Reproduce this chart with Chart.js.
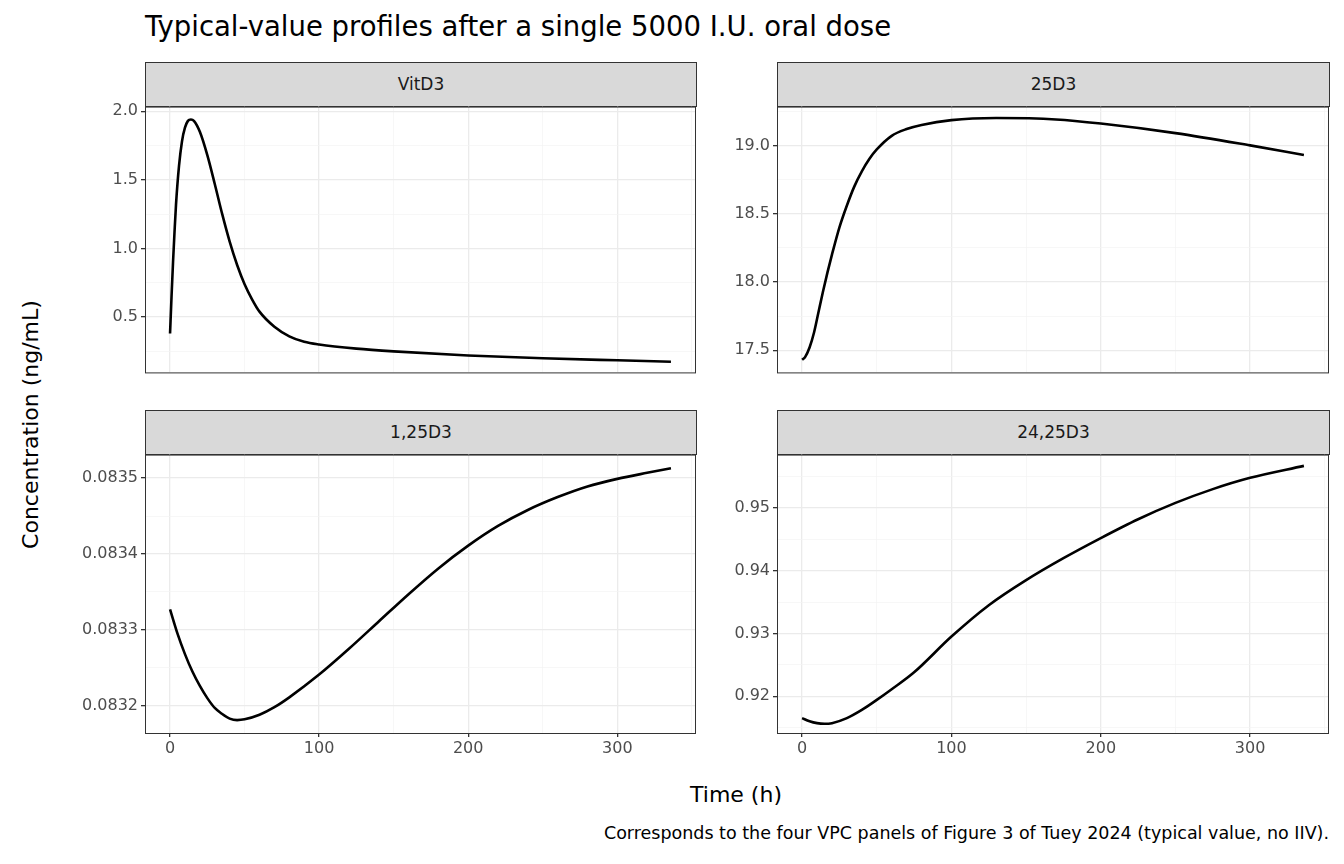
<!DOCTYPE html>
<html><head><meta charset="utf-8">
<script src="https://cdn.jsdelivr.net/npm/chart.js@4/dist/chart.umd.min.js"></script>
<style>
body{margin:0;width:1344px;height:864px;background:#fff;font-family:"DejaVu Sans",sans-serif;position:relative;overflow:hidden}
.abs{position:absolute;white-space:nowrap}
.strip{position:absolute;background:#d9d9d9;border:1px solid #333;box-sizing:border-box;height:45px;line-height:43px;text-align:center;font-size:17px;color:#1a1a1a}
canvas{position:absolute}
</style></head><body>
<div class="abs" style="left:145px;top:10px;font-size:27.5px;color:#000">Typical-value profiles after a single 5000 I.U. oral dose</div>
<div class="abs" style="left:-110px;top:412px;width:280px;text-align:center;font-size:22px;transform:rotate(-90deg)">Concentration (ng/mL)</div>
<div class="abs" style="left:636px;top:782px;width:200px;text-align:center;font-size:22px">Time (h)</div>
<div class="abs" style="right:15px;top:823px;font-size:17.5px">Corresponds to the four VPC panels of Figure 3 of Tuey 2024 (typical value, no IIV).</div>
<div class="strip" style="left:145px;top:62px;width:552px">VitD3</div>
<div class="strip" style="left:777px;top:62px;width:553px">25D3</div>
<div class="strip" style="left:145px;top:410px;width:552px">1,25D3</div>
<div class="strip" style="left:777px;top:410px;width:553px">24,25D3</div>
<canvas id="c0"></canvas><canvas id="c1"></canvas><canvas id="c2"></canvas><canvas id="c3"></canvas>
<script>
const vitd3Time = [0, 1, 2, 3, 4, 6, 8, 10, 12, 14, 16, 20, 25, 30, 35, 40, 45, 50, 55, 60, 70, 80, 90, 100, 125, 150, 200, 250, 300, 336];
const vitd3Conc = [0.38, 0.65, 0.9, 1.12, 1.32, 1.6, 1.78, 1.88, 1.93, 1.94, 1.93, 1.85, 1.68, 1.47, 1.25, 1.05, 0.88, 0.74, 0.63, 0.54, 0.43, 0.36, 0.32, 0.3, 0.27, 0.25, 0.22, 0.2, 0.185, 0.175];
const d25Time = [0, 2, 5, 8, 11, 14, 17, 20, 25, 30, 35, 40, 45, 50, 60, 70, 80, 100, 130, 170, 200, 250, 300, 336];
const d25Conc = [17.43, 17.45, 17.52, 17.63, 17.78, 17.93, 18.07, 18.2, 18.4, 18.56, 18.7, 18.81, 18.9, 18.97, 19.07, 19.12, 19.15, 19.185, 19.2, 19.19, 19.16, 19.09, 19.0, 18.93];
const d125Time = [0, 5, 10, 15, 20, 25, 30, 35, 40, 45, 50, 60, 70, 80, 100, 120, 140, 160, 180, 200, 220, 240, 260, 280, 300, 320, 336];
const d125Conc = [0.083327, 0.083295, 0.083268, 0.083245, 0.083226, 0.08321, 0.083197, 0.083189, 0.083183, 0.083181, 0.083182, 0.083188, 0.083198, 0.083211, 0.083241, 0.083275, 0.083311, 0.083347, 0.083381, 0.083411, 0.083437, 0.083458, 0.083475, 0.083489, 0.083499, 0.083507, 0.083513];
const d2425Time = [0, 5, 10, 15, 20, 30, 40, 50, 60, 75, 100, 125, 150, 175, 200, 225, 250, 275, 300, 336];
const d2425Conc = [0.9165, 0.916, 0.9157, 0.9156, 0.9157, 0.9165, 0.9178, 0.9194, 0.9211, 0.9238, 0.9295, 0.9345, 0.9385, 0.942, 0.9452, 0.9482, 0.9508, 0.953, 0.9548, 0.9567];
const xTicks = [0, 100, 200, 300];

const panels = [
  {id:'c0', t:vitd3Time, y:vitd3Conc, ymin:0.097, ymax:2.034, yTicks:[0.5,1.0,1.5,2.0], step:0.25, dec:1, left:40, top:107, yw:105, width:658, bottom:false},
  {id:'c1', t:d25Time, y:d25Conc, ymin:17.338, ymax:19.284, yTicks:[17.5,18.0,18.5,19.0], step:0.25, dec:1, left:700, top:107, yw:77, width:631, bottom:false},
  {id:'c2', t:d125Time, y:d125Conc, ymin:0.083164, ymax:0.083531, yTicks:[0.0832,0.0833,0.0834,0.0835], step:0.00005, dec:4, left:30, top:455, yw:115, width:668, bottom:true},
  {id:'c3', t:d2425Time, y:d2425Conc, ymin:0.91413, ymax:0.9585, yTicks:[0.92,0.93,0.94,0.95], step:0.005, dec:2, left:700, top:455, yw:77, width:631, bottom:true}
];

const border = {id:'border', afterDraw(c){const a=c.chartArea,x=c.ctx;x.save();x.strokeStyle='#333';x.lineWidth=1;x.strokeRect(a.left+0.5,a.top+0.5,a.right-a.left-1,a.bottom-a.top);x.restore();}};

function isMajor(v, list){return list.some(m=>Math.abs(m-v)<1e-9);}

panels.forEach(p=>{
  const cv=document.getElementById(p.id);
  const h = 289 + (p.bottom?32:2);
  cv.style.left=p.left+'px'; cv.style.top=p.top+'px';
  cv.style.width=p.width+'px'; cv.style.height=h+'px';
  const yAll=[]; for(let v=p.yTicks[0]-p.step*2; v<=p.ymax; v+=p.step){ if(v>=p.ymin) yAll.push(+v.toFixed(7)); }
  const chart = new Chart(cv,{
    type:'line',
    data:{datasets:[{data:p.t.map((t,i)=>({x:t,y:p.y[i]})),borderColor:'#000',borderWidth:2.6,pointRadius:0,cubicInterpolationMode:'monotone'}]},
    options:{
      responsive:false, animation:false, devicePixelRatio:1,
      layout:{padding:{top:0,right:2,bottom:p.bottom?0:2,left:0}},
      plugins:{legend:{display:false},tooltip:{enabled:false}},
      scales:{
        x:{type:'linear',min:-16.8,max:352.8,
          afterBuildTicks(s){s.ticks=[0,50,100,150,200,250,300,350].map(v=>({value:v}));},
          afterFit(s){s.height=p.bottom?30:0;},
          border:{display:false},
          grid:{color:c=>isMajor(c.tick.value,xTicks)?'#ebebeb':'#f3f3f3',lineWidth:c=>isMajor(c.tick.value,xTicks)?1.3:0.7,
            tickLength:4,tickColor:c=>p.bottom&&isMajor(c.tick.value,xTicks)?'#333':'rgba(0,0,0,0)',drawTicks:p.bottom},
          ticks:{display:p.bottom,color:'#4d4d4d',font:{family:'DejaVu Sans',size:16},padding:2,maxRotation:0,autoSkip:false,
            callback:v=>isMajor(v,xTicks)?String(v):''}
        },
        y:{type:'linear',min:p.ymin,max:p.ymax,
          afterBuildTicks(s){s.ticks=yAll.map(v=>({value:v}));},
          afterFit(s){s.width=p.yw;},
          border:{display:false},
          grid:{color:c=>isMajor(c.tick.value,p.yTicks)?'#ebebeb':'#f3f3f3',lineWidth:c=>isMajor(c.tick.value,p.yTicks)?1.3:0.7,
            tickLength:4,tickColor:c=>isMajor(c.tick.value,p.yTicks)?'#333':'rgba(0,0,0,0)'},
          ticks:{color:'#4d4d4d',font:{family:'DejaVu Sans',size:16},padding:3,autoSkip:false,
            callback:v=>isMajor(v,p.yTicks)?v.toFixed(p.dec):''}
        }
      }
    },
    plugins:[border]
  });
  // shift the canvas so the plot area sits right under the strip
  const off = Math.round(chart.chartArea.top);
  if (off > 0) {
    cv.style.top = (p.top - off) + 'px';
    chart.resize(p.width, h + off);
  }
});
</script>
</body></html>
